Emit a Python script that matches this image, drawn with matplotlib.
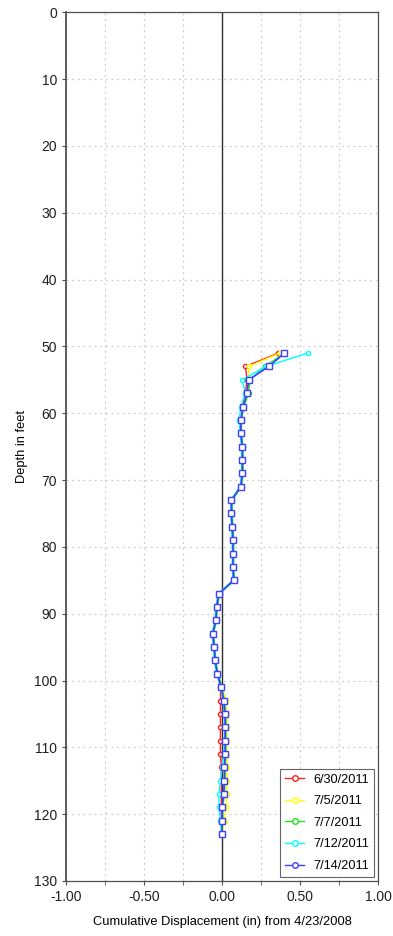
import numpy as np
import matplotlib

matplotlib.use("Agg")
from matplotlib import pyplot as plt
from matplotlib.lines import Line2D

plt.rcParams["font.family"] = ["Liberation Sans", "DejaVu Sans"]

# Inclinometer readings, depth (ft) vs cumulative displacement (in)
depths = np.arange(51, 124, 2)

dates = ["6/30/2011", "7/5/2011", "7/7/2011", "7/12/2011", "7/14/2011"]
colors = ["#ff2020", "#ffff00", "#20e020", "#00ffff", "#4040ff"]

disp_0630 = [0.36, 0.15, 0.16, 0.15, 0.13, 0.12, 0.12, 0.13, 0.13, 0.13,
             0.12, 0.06, 0.06, 0.065, 0.07, 0.07, 0.07, 0.075, -0.02, -0.035,
             -0.04, -0.06, -0.05, -0.045, -0.03, -0.01, -0.01, -0.01, -0.01, -0.01,
             -0.01, -0.005, -0.005, -0.005, -0.005, -0.005, 0.0]
disp_0705 = [0.37, 0.17, 0.17, 0.16, 0.135, 0.12, 0.12, 0.13, 0.13, 0.13,
             0.12, 0.06, 0.06, 0.065, 0.07, 0.07, 0.07, 0.075, -0.02, -0.035,
             -0.04, -0.06, -0.05, -0.045, -0.03, 0.0, 0.025, 0.03, 0.03, 0.03,
             0.03, 0.03, 0.03, 0.03, 0.025, 0.02, 0.0]
disp_0707 = [0.40, 0.275, 0.18, 0.17, 0.14, 0.125, 0.125, 0.135, 0.135, 0.135,
             0.125, 0.065, 0.065, 0.07, 0.075, 0.075, 0.075, 0.08, -0.015, -0.03,
             -0.035, -0.055, -0.045, -0.04, -0.025, 0.0, 0.015, 0.025, 0.025, 0.025,
             0.025, 0.02, 0.02, 0.015, 0.005, 0.005, 0.0]
disp_0712 = [0.55, 0.28, 0.13, 0.15, 0.12, 0.11, 0.115, 0.125, 0.125, 0.125,
             0.115, 0.055, 0.055, 0.06, 0.065, 0.065, 0.065, 0.07, -0.025, -0.04,
             -0.045, -0.065, -0.055, -0.05, -0.035, -0.01, 0.005, 0.015, 0.015, 0.015,
             0.01, 0.0, -0.01, -0.02, -0.02, -0.01, -0.005]
disp_0714 = [0.40, 0.30, 0.17, 0.16, 0.135, 0.12, 0.12, 0.13, 0.13, 0.13,
             0.12, 0.06, 0.06, 0.065, 0.07, 0.07, 0.07, 0.075, -0.02, -0.035,
             -0.04, -0.06, -0.05, -0.045, -0.03, -0.005, 0.01, 0.02, 0.02, 0.02,
             0.02, 0.015, 0.015, 0.01, 0.0, 0.0, 0.0]
series = [disp_0630, disp_0705, disp_0707, disp_0712, disp_0714]

fig = plt.figure(figsize=(3.93, 9.36), dpi=100)
ax = fig.add_axes([0.168, 0.0588, 0.794, 0.928])

ax.set_xlim(-1, 1)
ax.set_ylim(130, 0)
ax.set_xticks(np.arange(-1, 1.01, 0.5))
ax.set_xticks(np.arange(-0.75, 1, 0.5), minor=True)
ax.set_xticklabels(["%.2f" % v for v in np.arange(-1, 1.01, 0.5)])
ax.set_yticks(np.arange(0, 131, 10))
ax.grid(True, which="both", color="#cccccc", linestyle=(0, (1.5, 3)), linewidth=0.9)
ax.set_axisbelow(True)
ax.axvline(0, color="#303030", linewidth=1.0, zorder=1)

for vals, c, lbl in zip(series, colors, dates):
    is_last = lbl == dates[-1]
    ax.plot(vals, depths, color=c, linewidth=1.0 if not is_last else 1.2,
            marker="s" if is_last else "o", markersize=4.5 if is_last else 3,
            markerfacecolor="white", markeredgecolor=c, markeredgewidth=1.0,
            zorder=3 if is_last else 2)

handles = [Line2D([], [], color=c, linewidth=1.0, marker="o", markersize=4,
                  markerfacecolor="white", markeredgecolor=c) for c in colors]
leg = ax.legend(handles, dates, loc="lower right", fontsize=9.2, frameon=True,
                fancybox=False, edgecolor="#404040", handlelength=1.5,
                borderaxespad=0.3, labelspacing=0.75, handletextpad=0.7)
leg.get_frame().set_linewidth(0.8)

for s in ax.spines.values():
    s.set_color("#505050")
    s.set_linewidth(0.9)
ax.spines["left"].set_linewidth(1.3)
ax.tick_params(axis="both", which="both", labelsize=10, color="#505050",
               length=3, direction="out", colors="#202020")

ax.set_xlabel("Cumulative Displacement (in) from 4/23/2008", fontsize=9.3, labelpad=9)
ax.set_ylabel("Depth in feet", fontsize=9.3, labelpad=4)

fig.savefig("out.png", dpi=100)
